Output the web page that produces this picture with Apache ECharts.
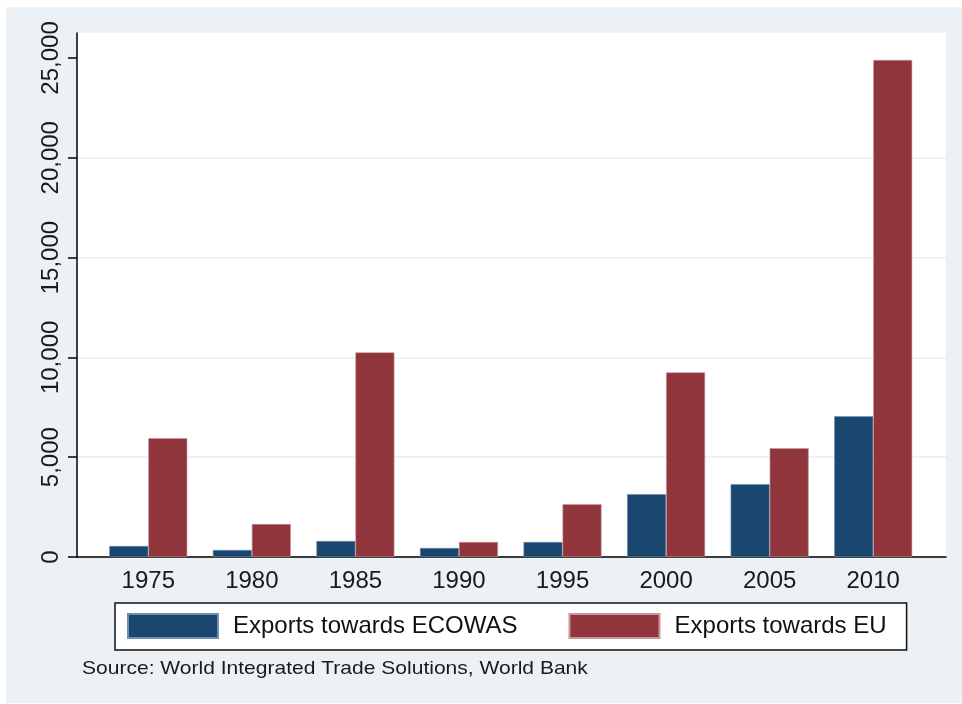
<!DOCTYPE html>
<html>
<head>
<meta charset="utf-8">
<script src="https://cdn.jsdelivr.net/npm/echarts@6/dist/echarts.min.js"></script>
<style>
html,body{margin:0;padding:0;background:#ffffff;}
#chart{position:absolute;left:6px;top:7px;width:956px;height:696px;}
</style>
</head>
<body>
<div id="chart"></div>
<script>
var years = ['1975','1980','1985','1990','1995','2000','2005','2010'];
var ecowas = [550, 350, 800, 450, 750, 3150, 3650, 7050];
var eu = [5950, 1650, 10250, 750, 2650, 9250, 5450, 24900];
var yTicks = [0, 5000, 10000, 15000, 20000, 25000];
var seriesNames = ['Exports towards ECOWAS', 'Exports towards EU'];
var sourceNote = 'Source: World Integrated Trade Solutions, World Bank';

var FONT = 'Liberation Sans, Arial, sans-serif';
var chart = echarts.init(document.getElementById('chart'), null, {renderer: 'canvas'});
var yMax = 26250;

var option = {
  backgroundColor: '#ECF1F5',
  animation: false,
  grid: [
    {left: 71, right: 16, top: 26, bottom: 146, show: true, backgroundColor: '#ffffff', borderWidth: 0, containLabel: false},
    {left: 90.5, right: 37, top: 26, bottom: 146, show: false, containLabel: false}
  ],
  xAxis: [
    {type: 'category', gridIndex: 0, data: years,
     axisLine: {show: true, lineStyle: {color: '#000000', width: 1.5}},
     axisTick: {show: false}, axisLabel: {show: false}, splitLine: {show: false}},
    {type: 'category', gridIndex: 1, data: years,
     axisLine: {show: false}, axisTick: {show: false},
     axisLabel: {show: true, color: '#1a1a1a', fontSize: 24, fontFamily: FONT, margin: 12},
     splitLine: {show: false}}
  ],
  yAxis: [
    {type: 'value', gridIndex: 0, min: 0, max: yMax, interval: 5000,
     axisLine: {show: true, lineStyle: {color: '#000000', width: 1.5}},
     axisTick: {show: true, length: 9, lineStyle: {color: '#000000', width: 1.5}, customValues: yTicks},
     axisLabel: {show: true, rotate: 90, margin: 14, color: '#1a1a1a', fontSize: 24, fontFamily: FONT,
       customValues: yTicks,
       formatter: function (v) { return v % 5000 === 0 ? v.toLocaleString('en-US') : ''; }},
     splitLine: {show: true, showMaxLine: false, lineStyle: {color: '#e9eef4', width: 1.5}}},
    {type: 'value', gridIndex: 1, min: 0, max: yMax, interval: 5000, show: false,
     splitLine: {show: false}}
  ],
  legend: {
    show: true,
    left: 109, top: 596,
    orient: 'horizontal',
    backgroundColor: '#ffffff',
    borderColor: '#111111', borderWidth: 1.5, borderRadius: 0,
    padding: [10, 20, 11, 12],
    itemWidth: 90, itemHeight: 24, itemGap: 51,
    icon: 'rect',
    textStyle: {color: '#111111', fontSize: 24, fontFamily: FONT, padding: [0, 0, 0, 10]},
    data: seriesNames
  },
  series: [
    {name: seriesNames[0], type: 'bar', xAxisIndex: 1, yAxisIndex: 1, data: ecowas,
     barWidth: 39, barGap: '0%',
     itemStyle: {color: '#1A476F', borderColor: '#6f8fae', borderWidth: 0.6}},
    {name: seriesNames[1], type: 'bar', xAxisIndex: 1, yAxisIndex: 1, data: eu,
     barWidth: 39, barGap: '0%',
     itemStyle: {color: '#90353B', borderColor: '#c9979b', borderWidth: 0.6}}
  ],
  graphic: [
    {type: 'text', x: 76, y: 652, scaleX: 1.107, scaleY: 1,
     style: {text: sourceNote, fill: '#1a1a1a', font: '19px ' + FONT}}
  ]
};
chart.setOption(option);
</script>
</body>
</html>
